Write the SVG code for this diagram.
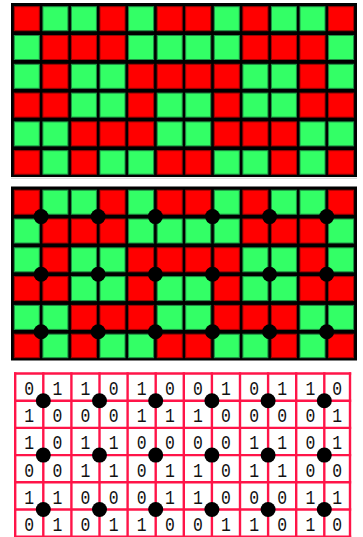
<svg xmlns="http://www.w3.org/2000/svg" xmlns:xlink="http://www.w3.org/1999/xlink" width="363" height="537" viewBox="0 0 363 537">
<style>
.r{fill:#ff0000;stroke:#a30000;stroke-width:1}
.g{fill:#33ff66;stroke:#1f8f45;stroke-width:1}
.dot{fill:#000}
.ln{stroke:#ff1448;stroke-width:2.4;fill:none}
.d{font-family:"Liberation Mono","DejaVu Sans Mono",monospace;font-size:20.5px;fill:#111;text-anchor:middle}
</style>
<defs>
<g id="cells">
<rect x="11" y="3" width="346" height="174" fill="#000"/>
<!-- row 1 -->
<rect class="r" x="14.3" y="6.7" width="25" height="24"/><rect class="g" x="42.9" y="6.7" width="25" height="24"/><rect class="g" x="71.4" y="6.7" width="25" height="24"/><rect class="r" x="100" y="6.7" width="25" height="24"/><rect class="g" x="128.6" y="6.7" width="25" height="24"/><rect class="r" x="157.2" y="6.7" width="25" height="24"/><rect class="r" x="185.7" y="6.7" width="25" height="24"/><rect class="g" x="214.3" y="6.7" width="25" height="24"/><rect class="r" x="242.9" y="6.7" width="25" height="24"/><rect class="g" x="271.4" y="6.7" width="25" height="24"/><rect class="g" x="300" y="6.7" width="25" height="24"/><rect class="r" x="328.6" y="6.7" width="25" height="24"/>
<!-- row 2 -->
<rect class="g" x="14.3" y="35.5" width="25" height="24"/><rect class="r" x="42.9" y="35.5" width="25" height="24"/><rect class="r" x="71.4" y="35.5" width="25" height="24"/><rect class="r" x="100" y="35.5" width="25" height="24"/><rect class="g" x="128.6" y="35.5" width="25" height="24"/><rect class="g" x="157.2" y="35.5" width="25" height="24"/><rect class="g" x="185.7" y="35.5" width="25" height="24"/><rect class="g" x="214.3" y="35.5" width="25" height="24"/><rect class="r" x="242.9" y="35.5" width="25" height="24"/><rect class="r" x="271.4" y="35.5" width="25" height="24"/><rect class="r" x="300" y="35.5" width="25" height="24"/><rect class="g" x="328.6" y="35.5" width="25" height="24"/>
<!-- row 3 -->
<rect class="g" x="14.3" y="64.3" width="25" height="24"/><rect class="r" x="42.9" y="64.3" width="25" height="24"/><rect class="g" x="71.4" y="64.3" width="25" height="24"/><rect class="g" x="100" y="64.3" width="25" height="24"/><rect class="r" x="128.6" y="64.3" width="25" height="24"/><rect class="r" x="157.2" y="64.3" width="25" height="24"/><rect class="r" x="185.7" y="64.3" width="25" height="24"/><rect class="r" x="214.3" y="64.3" width="25" height="24"/><rect class="g" x="242.9" y="64.3" width="25" height="24"/><rect class="g" x="271.4" y="64.3" width="25" height="24"/><rect class="r" x="300" y="64.3" width="25" height="24"/><rect class="g" x="328.6" y="64.3" width="25" height="24"/>
<!-- row 4 -->
<rect class="r" x="14.3" y="93.1" width="25" height="24"/><rect class="r" x="42.9" y="93.1" width="25" height="24"/><rect class="g" x="71.4" y="93.1" width="25" height="24"/><rect class="g" x="100" y="93.1" width="25" height="24"/><rect class="r" x="128.6" y="93.1" width="25" height="24"/><rect class="g" x="157.2" y="93.1" width="25" height="24"/><rect class="g" x="185.7" y="93.1" width="25" height="24"/><rect class="r" x="214.3" y="93.1" width="25" height="24"/><rect class="g" x="242.9" y="93.1" width="25" height="24"/><rect class="g" x="271.4" y="93.1" width="25" height="24"/><rect class="r" x="300" y="93.1" width="25" height="24"/><rect class="r" x="328.6" y="93.1" width="25" height="24"/>
<!-- row 5 -->
<rect class="g" x="14.3" y="121.9" width="25" height="24"/><rect class="g" x="42.9" y="121.9" width="25" height="24"/><rect class="r" x="71.4" y="121.9" width="25" height="24"/><rect class="r" x="100" y="121.9" width="25" height="24"/><rect class="r" x="128.6" y="121.9" width="25" height="24"/><rect class="g" x="157.2" y="121.9" width="25" height="24"/><rect class="g" x="185.7" y="121.9" width="25" height="24"/><rect class="r" x="214.3" y="121.9" width="25" height="24"/><rect class="r" x="242.9" y="121.9" width="25" height="24"/><rect class="r" x="271.4" y="121.9" width="25" height="24"/><rect class="g" x="300" y="121.9" width="25" height="24"/><rect class="g" x="328.6" y="121.9" width="25" height="24"/>
<!-- row 6 -->
<rect class="r" x="14.3" y="150.7" width="25" height="23.5"/><rect class="g" x="42.9" y="150.7" width="25" height="23.5"/><rect class="r" x="71.4" y="150.7" width="25" height="23.5"/><rect class="g" x="100" y="150.7" width="25" height="23.5"/><rect class="g" x="128.6" y="150.7" width="25" height="23.5"/><rect class="r" x="157.2" y="150.7" width="25" height="23.5"/><rect class="r" x="185.7" y="150.7" width="25" height="23.5"/><rect class="g" x="214.3" y="150.7" width="25" height="23.5"/><rect class="g" x="242.9" y="150.7" width="25" height="23.5"/><rect class="r" x="271.4" y="150.7" width="25" height="23.5"/><rect class="g" x="300" y="150.7" width="25" height="23.5"/><rect class="r" x="328.6" y="150.7" width="25" height="23.5"/>
</g>
</defs>

<!-- Panel 1: colour grid -->
<g id="panel1">
<use xlink:href="#cells"/>
<line x1="11" y1="178.2" x2="357" y2="178.2" stroke="#d0d0d0" stroke-width="1"/>
</g>

<!-- Panel 2: colour grid with dots -->
<g id="panel2">
<use xlink:href="#cells" transform="translate(0,183.5)"/>
<g class="dot">
<circle cx="41.1" cy="216.6" r="7.5"/><circle cx="98.2" cy="216.6" r="7.5"/><circle cx="155.4" cy="216.6" r="7.5"/><circle cx="212.5" cy="216.6" r="7.5"/><circle cx="269.6" cy="216.6" r="7.5"/><circle cx="326.7" cy="216.6" r="7.5"/>
<circle cx="41.1" cy="274.2" r="7.5"/><circle cx="98.2" cy="274.2" r="7.5"/><circle cx="155.4" cy="274.2" r="7.5"/><circle cx="212.5" cy="274.2" r="7.5"/><circle cx="269.6" cy="274.2" r="7.5"/><circle cx="326.7" cy="274.2" r="7.5"/>
<circle cx="41.1" cy="331.8" r="7.5"/><circle cx="98.2" cy="331.8" r="7.5"/><circle cx="155.4" cy="331.8" r="7.5"/><circle cx="212.5" cy="331.8" r="7.5"/><circle cx="269.6" cy="331.8" r="7.5"/><circle cx="326.7" cy="331.8" r="7.5"/>
</g>
</g>

<!-- Panel 3: binary grid -->
<g id="panel3">
<rect x="15.2" y="373.5" width="334.8" height="163.2" fill="#fff"/>
<g class="ln">
<line x1="15.2" y1="372.3" x2="15.2" y2="538"/><line x1="43.3" y1="372.3" x2="43.3" y2="538"/><line x1="71.4" y1="372.3" x2="71.4" y2="538"/><line x1="99.5" y1="372.3" x2="99.5" y2="538"/><line x1="127.6" y1="372.3" x2="127.6" y2="538"/><line x1="155.7" y1="372.3" x2="155.7" y2="538"/><line x1="183.8" y1="372.3" x2="183.8" y2="538"/><line x1="211.9" y1="372.3" x2="211.9" y2="538"/><line x1="240" y1="372.3" x2="240" y2="538"/><line x1="268.1" y1="372.3" x2="268.1" y2="538"/><line x1="296.2" y1="372.3" x2="296.2" y2="538"/><line x1="324.3" y1="372.3" x2="324.3" y2="538"/><line x1="350" y1="372.3" x2="350" y2="538"/>
<line x1="14" y1="373.5" x2="351.2" y2="373.5"/><line x1="14" y1="400.7" x2="351.2" y2="400.7"/><line x1="14" y1="427.9" x2="351.2" y2="427.9"/><line x1="14" y1="455.1" x2="351.2" y2="455.1"/><line x1="14" y1="482.3" x2="351.2" y2="482.3"/><line x1="14" y1="509.5" x2="351.2" y2="509.5"/><line x1="14" y1="536.7" x2="351.2" y2="536.7"/>
</g>
<g class="d" transform="scale(0.8,1)">
<text x="36.6" y="395">0</text><text x="71.8" y="395">1</text><text x="106.9" y="395">1</text><text x="142" y="395">0</text><text x="177.1" y="395">1</text><text x="212.3" y="395">0</text><text x="247.4" y="395">0</text><text x="282.5" y="395">1</text><text x="317.6" y="395">0</text><text x="352.8" y="395">1</text><text x="387.9" y="395">1</text><text x="421.5" y="395">0</text>
<text x="36.6" y="422.2">1</text><text x="71.8" y="422.2">0</text><text x="106.9" y="422.2">0</text><text x="142" y="422.2">0</text><text x="177.1" y="422.2">1</text><text x="212.3" y="422.2">1</text><text x="247.4" y="422.2">1</text><text x="282.5" y="422.2">0</text><text x="317.6" y="422.2">0</text><text x="352.8" y="422.2">0</text><text x="387.9" y="422.2">0</text><text x="421.5" y="422.2">1</text>
<text x="36.6" y="449.4">1</text><text x="71.8" y="449.4">0</text><text x="106.9" y="449.4">1</text><text x="142" y="449.4">1</text><text x="177.1" y="449.4">0</text><text x="212.3" y="449.4">0</text><text x="247.4" y="449.4">0</text><text x="282.5" y="449.4">0</text><text x="317.6" y="449.4">1</text><text x="352.8" y="449.4">1</text><text x="387.9" y="449.4">0</text><text x="421.5" y="449.4">1</text>
<text x="36.6" y="476.6">0</text><text x="71.8" y="476.6">0</text><text x="106.9" y="476.6">1</text><text x="142" y="476.6">1</text><text x="177.1" y="476.6">0</text><text x="212.3" y="476.6">1</text><text x="247.4" y="476.6">1</text><text x="282.5" y="476.6">0</text><text x="317.6" y="476.6">1</text><text x="352.8" y="476.6">1</text><text x="387.9" y="476.6">0</text><text x="421.5" y="476.6">0</text>
<text x="36.6" y="503.8">1</text><text x="71.8" y="503.8">1</text><text x="106.9" y="503.8">0</text><text x="142" y="503.8">0</text><text x="177.1" y="503.8">0</text><text x="212.3" y="503.8">1</text><text x="247.4" y="503.8">1</text><text x="282.5" y="503.8">0</text><text x="317.6" y="503.8">0</text><text x="352.8" y="503.8">0</text><text x="387.9" y="503.8">1</text><text x="421.5" y="503.8">1</text>
<text x="36.6" y="531">0</text><text x="71.8" y="531">1</text><text x="106.9" y="531">0</text><text x="142" y="531">1</text><text x="177.1" y="531">1</text><text x="212.3" y="531">0</text><text x="247.4" y="531">0</text><text x="282.5" y="531">1</text><text x="317.6" y="531">1</text><text x="352.8" y="531">0</text><text x="387.9" y="531">1</text><text x="421.5" y="531">0</text>
</g>
<g class="dot">
<circle cx="43.3" cy="400.7" r="7.5"/><circle cx="99.5" cy="400.7" r="7.5"/><circle cx="155.7" cy="400.7" r="7.5"/><circle cx="211.9" cy="400.7" r="7.5"/><circle cx="268.1" cy="400.7" r="7.5"/><circle cx="324.3" cy="400.7" r="7.5"/>
<circle cx="43.3" cy="455.1" r="7.5"/><circle cx="99.5" cy="455.1" r="7.5"/><circle cx="155.7" cy="455.1" r="7.5"/><circle cx="211.9" cy="455.1" r="7.5"/><circle cx="268.1" cy="455.1" r="7.5"/><circle cx="324.3" cy="455.1" r="7.5"/>
<circle cx="43.3" cy="509.5" r="7.5"/><circle cx="99.5" cy="509.5" r="7.5"/><circle cx="155.7" cy="509.5" r="7.5"/><circle cx="211.9" cy="509.5" r="7.5"/><circle cx="268.1" cy="509.5" r="7.5"/><circle cx="324.3" cy="509.5" r="7.5"/>
</g>
</g>
</svg>
